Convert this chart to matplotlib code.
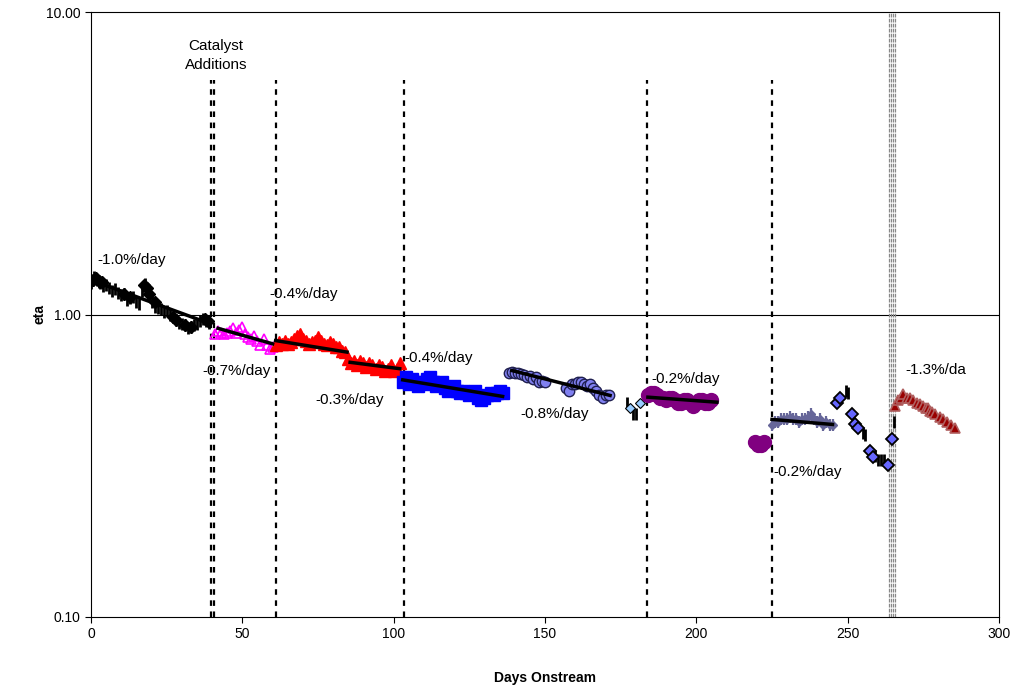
import numpy as np
import matplotlib.pyplot as plt
from matplotlib.ticker import FixedLocator, NullLocator

plt.rcParams['font.family'] = ['Liberation Sans', 'DejaVu Sans']

# black series, days 0-39
blk_day = [0, 0.5, 1, 1.5, 2, 2.5, 3, 4, 5, 6, 7, 8, 9, 10, 11, 12, 13, 14, 15, 16,
           17, 17.5, 18, 19, 20, 21, 22, 23, 24, 25, 26, 27, 28, 29, 30, 31, 32, 33,
           34, 35, 36, 37, 38, 39]
blk_eta = [1.27, 1.30, 1.33, 1.31, 1.30, 1.28, 1.27, 1.24, 1.25, 1.22, 1.20, 1.21,
           1.18, 1.16, 1.17, 1.12, 1.13, 1.14, 1.10, 1.08, 1.20, 1.24, 1.26, 1.17,
           1.10, 1.06, 1.05, 1.04, 1.02, 1.03, 1.00, 0.98, 0.96, 0.94, 0.93, 0.92,
           0.90, 0.91, 0.92, 0.93, 0.95, 0.97, 0.95, 0.94]
blkd_day = [0.5, 1.5, 2.5, 3.5, 11, 13, 17.5, 18.5, 19, 21, 27, 28, 31, 33, 37.5, 38.5]
blkd_eta = [1.30, 1.32, 1.29, 1.28, 1.17, 1.14, 1.25, 1.22, 1.17, 1.10, 0.98, 0.96,
            0.92, 0.91, 0.97, 0.95]

# magenta open triangles
mag_day = [41, 42, 43, 44, 45, 46, 47, 48, 49, 50, 51, 52, 53, 54, 55, 56, 57, 58, 59, 60]
mag_eta = [0.86, 0.88, 0.87, 0.86, 0.87, 0.88, 0.90, 0.87, 0.89, 0.91, 0.86, 0.84,
           0.83, 0.85, 0.82, 0.79, 0.83, 0.79, 0.77, 0.78]

# red filled triangles
red_day = list(range(61, 103))
red_eta = [0.79, 0.81, 0.80, 0.82, 0.80, 0.81, 0.83, 0.85, 0.86, 0.83, 0.82, 0.80,
           0.81, 0.82, 0.84, 0.82, 0.80, 0.79, 0.81, 0.80, 0.78, 0.78, 0.76, 0.75,
           0.71, 0.69, 0.70, 0.68, 0.70, 0.69, 0.67, 0.69, 0.68, 0.66, 0.68, 0.67,
           0.65, 0.66, 0.68, 0.65, 0.66, 0.69]

# blue squares
blu_day = list(range(103, 137))
blu_eta = [0.60, 0.62, 0.59, 0.61, 0.60, 0.58, 0.60, 0.59, 0.61, 0.62, 0.60, 0.58,
           0.59, 0.60, 0.57, 0.56, 0.57, 0.58, 0.56, 0.55, 0.56, 0.55, 0.54, 0.55,
           0.56, 0.53, 0.52, 0.53, 0.54, 0.55, 0.54, 0.55, 0.56, 0.55]

# light blue circles
cir_day = [138, 139, 140, 141, 142, 143, 144, 145, 146, 147, 148, 149, 150,
           157, 158, 159, 160, 161, 162, 163, 164, 165, 166, 167, 168, 169, 170, 171]
cir_eta = [0.64, 0.645, 0.64, 0.64, 0.635, 0.63, 0.62, 0.625, 0.61, 0.62, 0.60,
           0.605, 0.60, 0.57, 0.56, 0.59, 0.59, 0.60, 0.60, 0.59, 0.58, 0.59, 0.57,
           0.56, 0.54, 0.53, 0.54, 0.54]

# transition points ~day 177-182
trb_day = [177, 179, 180]
trb_eta = [0.51, 0.47, 0.47]
trd_day = [178, 181.5]
trd_eta = [0.49, 0.51]

# purple circles
pur_day = list(range(184, 206))
pur_eta = [0.54, 0.55, 0.55, 0.54, 0.53, 0.53, 0.52, 0.53, 0.53, 0.52, 0.51, 0.51,
           0.52, 0.52, 0.51, 0.50, 0.51, 0.52, 0.52, 0.51, 0.51, 0.52]
pur2_day = [219.5, 220.5, 221.5, 222.5]
pur2_eta = [0.38, 0.37, 0.37, 0.38]

# slate series
sla_day = list(range(225, 246))
sla_eta = [0.43, 0.44, 0.44, 0.45, 0.45, 0.45, 0.46, 0.45, 0.45, 0.44, 0.45, 0.45,
           0.46, 0.47, 0.45, 0.44, 0.45, 0.43, 0.44, 0.43, 0.43]

# blue diamonds and black dashes, days 246-265
dia_day = [246.4, 247.4, 251.4, 252.4, 253.4, 257.4, 258.3, 263.3, 264.6]
dia_eta = [0.51, 0.53, 0.47, 0.436, 0.42, 0.355, 0.337, 0.319, 0.389]
bk2_day = [249.3, 250, 255, 255.7, 259, 260, 261, 262, 265.3]
bk2_eta = [0.56, 0.55, 0.405, 0.40, 0.34, 0.33, 0.33, 0.33, 0.44]

# brown triangles
brn_day = [265.6, 266.5, 267.5, 268.3, 269.5, 270.5, 271.5, 272.8, 274, 274.9, 276,
           276.5, 277.3, 278, 279, 280.5, 281.5, 282.8, 284, 285.4]
brn_eta = [0.50, 0.52, 0.53, 0.545, 0.53, 0.53, 0.52, 0.51, 0.505, 0.50, 0.49,
           0.49, 0.48, 0.475, 0.47, 0.457, 0.45, 0.44, 0.43, 0.42]

# trend lines: (day0, day1, eta0, eta1)
trends = [(0, 39, 1.30, 0.935), (42, 60, 0.90, 0.80), (61, 84.6, 0.82, 0.751),
          (85.6, 102, 0.695, 0.662), (103, 136, 0.608, 0.536),
          (139, 171.5, 0.653, 0.54), (184, 206.8, 0.533, 0.513),
          (225, 245, 0.45, 0.433)]

additions = [39.6, 40.6, 61.1, 103.4, 183.7, 225.0]
gray_lines = [263.6, 264.3, 265.0, 265.7]

labels = [(2, 1.51, '-1.0%/day'), (59, 1.17, '-0.4%/day'), (36.7, 0.648, '-0.7%/day'),
          (74, 0.52, '-0.3%/day'), (103.4, 0.716, '-0.4%/day'), (142, 0.47, '-0.8%/day'),
          (185, 0.614, '-0.2%/day'), (225.3, 0.302, '-0.2%/day'), (269, 0.653, '-1.3%/da')]

fig = plt.figure(figsize=(10.24, 6.96), dpi=100)
ax = fig.add_axes([91 / 1024, 1 - 617 / 696, 908 / 1024, 605 / 696])
ax.set_yscale('log')
ax.set_xlim(0, 300)
ax.set_ylim(0.1, 10)

ax.axhline(1.0, color='black', lw=0.8, zorder=1)
for d in additions:
    ax.plot([d, d], [0.1, 5.94], color='black', lw=1.6, ls=(0, (2.5, 2.5)), zorder=1)
for d in gray_lines:
    ax.axvline(d, color='#888888', lw=0.9, ls=(0, (3, 1)), zorder=1)

ax.plot(blk_day, blk_eta, ls='none', marker='|', ms=9, mew=2, color='black')
ax.plot(blkd_day, blkd_eta, ls='none', marker='D', ms=6, color='black')
ax.plot(mag_day, mag_eta, ls='none', marker='^', ms=7, mfc='none', mec='#FF00FF', mew=1.2)
ax.plot(red_day, red_eta, ls='none', marker='^', ms=8, color='#FF0000')
ax.plot(blu_day, blu_eta, ls='none', marker='s', ms=8, color='#0000FF')
ax.plot(cir_day, cir_eta, ls='none', marker='o', ms=7.5, mfc='#8080F0', mec='#202050', mew=1)
ax.plot(trb_day, trb_eta, ls='none', marker='|', ms=9, mew=2, color='black')
ax.plot(trd_day, trd_eta, ls='none', marker='D', ms=5, mfc='#99CCFF', mec='black', mew=0.8)
ax.plot(pur_day, pur_eta, ls='none', marker='o', ms=10, color='#800080')
ax.plot(pur2_day, pur2_eta, ls='none', marker='o', ms=10, color='#800080')
ax.plot(sla_day, sla_eta, ls='none', marker='|', ms=8, mew=1.6, color='#666699')
ax.plot(sla_day, sla_eta, ls='none', marker='D', ms=4.5, color='#666699')
ax.plot(bk2_day, bk2_eta, ls='none', marker='|', ms=9, mew=2, color='black')
ax.plot(dia_day, dia_eta, ls='none', marker='D', ms=6.5, mfc='#6666FF', mec='black', mew=1.3)
ax.plot(brn_day, brn_eta, ls='none', marker='^', ms=7, mfc='#990000', mec='#B06060', mew=1.2)

for d0, d1, e0, e1 in trends:
    ax.plot([d0, d1], [e0, e1], color='black', lw=2.5, zorder=5)

for d, e, s in labels:
    ax.text(d, e, s, fontsize=11, ha='left', va='center', zorder=6, clip_on=True)
ax.text(41.3, 7.19, 'Catalyst\nAdditions', fontsize=11, ha='center', va='center',
        linespacing=1.45)

ax.yaxis.set_major_locator(FixedLocator([0.1, 1, 10]))
ax.yaxis.set_minor_locator(NullLocator())
ax.set_yticklabels(['0.10', '1.00', '10.00'])
ax.set_xticks(range(0, 301, 50))
ax.tick_params(labelsize=10, direction='out', length=4, width=0.8)
for sp in ax.spines.values():
    sp.set_linewidth(0.8)

ax.set_xlabel('Days Onstream', fontsize=10, fontweight='bold')
ax.set_ylabel('eta', fontsize=10, fontweight='bold')
ax.xaxis.set_label_coords(0.5, -(671 - 617) / 605)
ax.yaxis.set_label_coords(-(91 - 47) / 908, 0.5)

fig.savefig('out.png', dpi=100)
